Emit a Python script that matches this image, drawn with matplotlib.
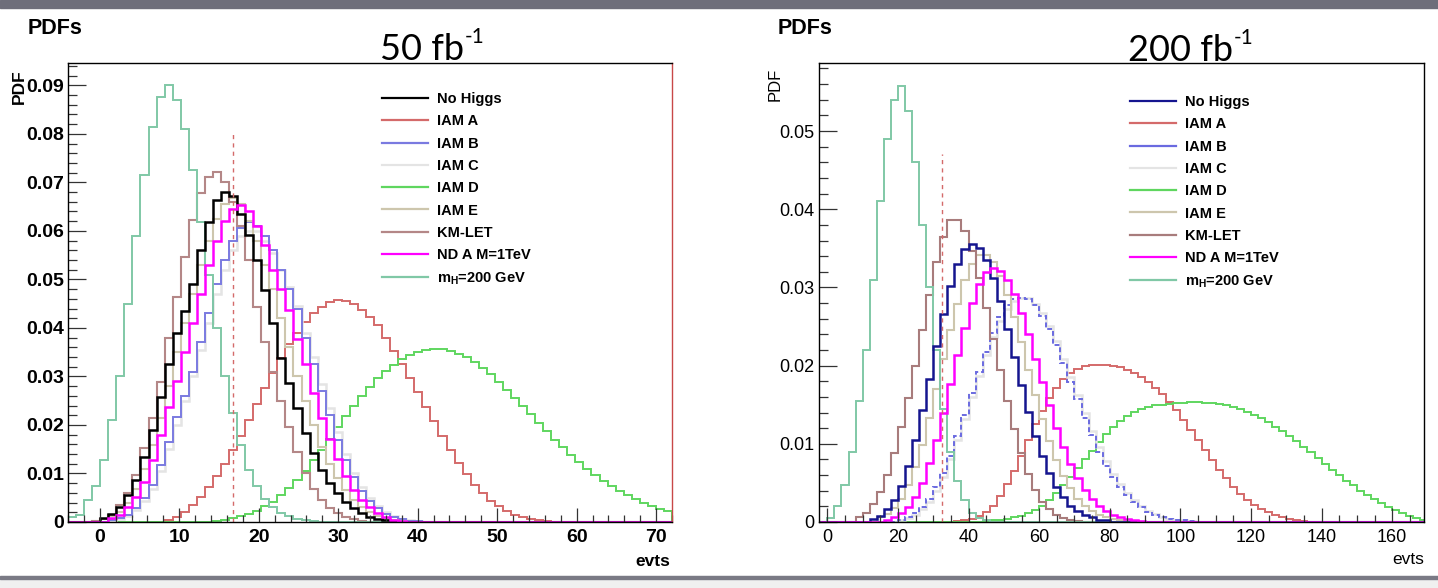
import numpy as np
import matplotlib
matplotlib.use('Agg')
import matplotlib.pyplot as plt
from matplotlib.lines import Line2D
from matplotlib.patches import Rectangle
from matplotlib.ticker import MultipleLocator, FuncFormatter

plt.rcParams['font.family'] = ['Liberation Sans', 'DejaVu Sans']
plt.rcParams['mathtext.default'] = 'regular'

labels = ['No Higgs', 'IAM A', 'IAM B', 'IAM C', 'IAM D', 'IAM E', 'KM-LET',
          'ND A M=1TeV', 'm$_H$=200 GeV']

# ---------------- 50 fb-1 : 75 bins between -4 and 72 evts ----------------
nbins_50 = 75
range_50 = (-4, 72)
cut_50 = 16.8          # dashed line position (evts)
cut_top_50 = 0.080

no_higgs_50 = [0.0008, 0.0017, 0.003, 0.0055, 0.0087, 0.0134, 0.019, 0.0258, 0.0325, 0.039,
               0.0435, 0.049, 0.056, 0.0619, 0.0664, 0.0681, 0.0672, 0.0635, 0.0592, 0.054,
               0.0478, 0.041, 0.0338, 0.0286, 0.0235, 0.0183, 0.0142, 0.0107, 0.008, 0.006,
               0.0042, 0.0029, 0.0018, 0.0011, 0.0007, 0.0004, 0.0002, 0.0001]
iam_a_50 = [0.0005, 0.0011, 0.0021, 0.0035, 0.0052, 0.0072, 0.0095, 0.012, 0.0148, 0.0178,
            0.021, 0.0243, 0.0276, 0.0308, 0.0338, 0.0366, 0.039, 0.0412, 0.043, 0.0444,
            0.0453, 0.0458, 0.0456, 0.0449, 0.0437, 0.0422, 0.0405, 0.038, 0.0353, 0.0325,
            0.0297, 0.0268, 0.0238, 0.0208, 0.0178, 0.0148, 0.0122, 0.0098, 0.0077, 0.0059,
            0.0044, 0.0032, 0.0022, 0.0015, 0.001, 0.0006, 0.0004, 0.0002, 0.0001]
iam_b_50 = [0.0004, 0.0008, 0.0015, 0.0028, 0.005, 0.0076, 0.0118, 0.0165, 0.0217, 0.026,
            0.031, 0.037, 0.043, 0.049, 0.054, 0.058, 0.0605, 0.0619, 0.061, 0.059,
            0.056, 0.052, 0.048, 0.044, 0.038, 0.0325, 0.027, 0.022, 0.017, 0.0128,
            0.0092, 0.0064, 0.0043, 0.0028, 0.0017, 0.001, 0.0006, 0.0003, 0.0002, 0.0001]
iam_c_50 = [0.0003, 0.0007, 0.0013, 0.0024, 0.0043, 0.0068, 0.0105, 0.015, 0.020, 0.025,
            0.030, 0.0355, 0.041, 0.047, 0.052, 0.056, 0.059, 0.0599, 0.0599, 0.058,
            0.0555, 0.052, 0.0485, 0.0445, 0.039, 0.034, 0.0285, 0.0235, 0.0185, 0.014,
            0.0102, 0.0072, 0.0049, 0.0032, 0.002, 0.0012, 0.0007, 0.0004, 0.0002, 0.0001]
iam_d_50 = [0.0003, 0.0005, 0.0008, 0.0012, 0.0017, 0.0023, 0.0032, 0.0042, 0.0055, 0.007,
            0.0087, 0.0106, 0.0127, 0.0149, 0.0172, 0.0195, 0.0218, 0.024, 0.026, 0.0279,
            0.0296, 0.0311, 0.0324, 0.0335, 0.0344, 0.035, 0.0355, 0.0357, 0.0356, 0.0353,
            0.0347, 0.034, 0.033, 0.0318, 0.0304, 0.0289, 0.0273, 0.0256, 0.0239, 0.0222,
            0.0204, 0.0187, 0.017, 0.0154, 0.0139, 0.0124, 0.011, 0.0097, 0.0085, 0.0074,
            0.0064, 0.0055, 0.0047, 0.004, 0.0033, 0.0027, 0.0022]
iam_e_50 = [0.0006, 0.0012, 0.002, 0.004, 0.0068, 0.011, 0.0158, 0.0215, 0.028, 0.035,
            0.041, 0.047, 0.053, 0.058, 0.0625, 0.0655, 0.0668, 0.0655, 0.062, 0.058,
            0.053, 0.048, 0.042, 0.036, 0.030, 0.025, 0.020, 0.0155, 0.012, 0.009,
            0.0065, 0.0045, 0.003, 0.002, 0.0012, 0.0007, 0.0004, 0.0002]
km_let_50 = [0.0003, 0.0007, 0.0015, 0.0035, 0.006, 0.0097, 0.0152, 0.0214, 0.0289, 0.038,
             0.0464, 0.0547, 0.0623, 0.0678, 0.0712, 0.0722, 0.070, 0.066, 0.061, 0.054,
             0.0444, 0.037, 0.031, 0.025, 0.0195, 0.0145, 0.0101, 0.0068, 0.0045, 0.0029,
             0.0018, 0.0011, 0.0006, 0.0003, 0.0001]
nd_a_50 = [0.0008, 0.0015, 0.003, 0.0052, 0.0082, 0.0128, 0.018, 0.0238, 0.029, 0.035,
           0.041, 0.047, 0.053, 0.058, 0.062, 0.0645, 0.0654, 0.064, 0.061, 0.057,
           0.052, 0.048, 0.0436, 0.0377, 0.0325, 0.0265, 0.0215, 0.0171, 0.013, 0.0095,
           0.0066, 0.0045, 0.003, 0.0018, 0.001, 0.0005, 0.0003, 0.0001]
mh200_50 = [0.001, 0.0015, 0.0045, 0.0075, 0.0128, 0.021, 0.030, 0.045, 0.059, 0.0715,
            0.0815, 0.0876, 0.0900, 0.0870, 0.0810, 0.0726, 0.0619, 0.051, 0.040, 0.030,
            0.0225, 0.0159, 0.0107, 0.0075, 0.0048, 0.003, 0.0019, 0.0012, 0.0007, 0.0004,
            0.0002, 0.0001]
# index of the first listed bin of each series (same order as labels)
first_bin_50 = [4, 12, 5, 5, 18, 4, 3, 5, 0]

# ---------------- 200 fb-1 : 2-evt bins between -2 and 170 evts ----------------
nbins_200 = 86
range_200 = (-2, 170)
cut_200 = 32.4
cut_top_200 = 0.047

no_higgs_200 = [0.0004, 0.0008, 0.0016, 0.0028, 0.0046, 0.0072, 0.0105, 0.0143, 0.0183, 0.0225,
                0.0266, 0.0302, 0.033, 0.0349, 0.0355, 0.035, 0.0335, 0.0312, 0.0282, 0.0247,
                0.0211, 0.0175, 0.0141, 0.011, 0.0085, 0.0063, 0.0045, 0.0032, 0.0021, 0.0014,
                0.0009, 0.0006, 0.0003, 0.0002]
iam_a_200 = [0.0001, 0.0002, 0.0004, 0.0008, 0.0013, 0.0021, 0.0033, 0.0048, 0.0065, 0.0085,
             0.0105, 0.0125, 0.0142, 0.0158, 0.0172, 0.0183, 0.0191, 0.0196, 0.0199, 0.0201,
             0.0201, 0.0201, 0.0200, 0.0198, 0.0194, 0.019, 0.0185, 0.0179, 0.0172, 0.0164,
             0.0154, 0.0143, 0.0131, 0.0118, 0.0105, 0.0092, 0.0079, 0.0067, 0.0056, 0.0045,
             0.0036, 0.0028, 0.0022, 0.0017, 0.0013, 0.0009, 0.0006, 0.0004, 0.0002, 0.0001]
iam_b_200 = [0.0003, 0.0006, 0.0011, 0.0019, 0.003, 0.0045, 0.0063, 0.0085, 0.011, 0.0137,
             0.0165, 0.0192, 0.0218, 0.0242, 0.0262, 0.0277, 0.0285, 0.0287, 0.0285, 0.0277,
             0.0264, 0.0247, 0.0226, 0.0203, 0.0179, 0.0157, 0.0133, 0.0111, 0.009, 0.0072,
             0.0058, 0.0045, 0.0034, 0.0025, 0.0019, 0.0013, 0.0009, 0.0006, 0.0004, 0.0003,
             0.0002, 0.0001]
iam_c_200 = [0.0002, 0.0005, 0.0009, 0.0016, 0.0026, 0.004, 0.0058, 0.008, 0.0105, 0.0132,
             0.016, 0.0187, 0.0213, 0.0237, 0.0257, 0.0273, 0.0282, 0.0286, 0.0286, 0.0279,
             0.0267, 0.0251, 0.0231, 0.0209, 0.0185, 0.0162, 0.0139, 0.0117, 0.0096, 0.0078,
             0.0062, 0.0048, 0.0037, 0.0028, 0.002, 0.0014, 0.001, 0.0007, 0.0004, 0.0003,
             0.0002, 0.0001]
iam_d_200 = [0.0001, 0.0002, 0.0003, 0.0004, 0.0006, 0.0008, 0.0011, 0.0015, 0.0021, 0.0028,
             0.0037, 0.0047, 0.0058, 0.0069, 0.008, 0.0091, 0.0102, 0.0112, 0.0121, 0.0129,
             0.0136, 0.0141, 0.0145, 0.0147, 0.0149, 0.015, 0.0151, 0.0152, 0.0152, 0.0153,
             0.0153, 0.0152, 0.0152, 0.0151, 0.0149, 0.0147, 0.0144, 0.0141, 0.0137, 0.0133,
             0.0128, 0.0122, 0.0116, 0.011, 0.0103, 0.0096, 0.0089, 0.0082, 0.0074, 0.0067,
             0.006, 0.0053, 0.0047, 0.004, 0.0034, 0.0029, 0.0024, 0.0019, 0.0015, 0.0011,
             0.0008, 0.0005, 0.0003]
iam_e_200 = [0.0006, 0.001, 0.0018, 0.003, 0.0047, 0.007, 0.0099, 0.0133, 0.017, 0.0208,
             0.0245, 0.0279, 0.0309, 0.033, 0.0341, 0.0341, 0.0332, 0.0315, 0.029, 0.0262,
             0.023, 0.0195, 0.0162, 0.0132, 0.0104, 0.0079, 0.0059, 0.0043, 0.003, 0.0021,
             0.0014, 0.0009, 0.0006, 0.0004, 0.0002, 0.0001]
km_let_200 = [0.0006, 0.0012, 0.0023, 0.0039, 0.006, 0.0088, 0.0121, 0.0158, 0.0199, 0.0245,
              0.029, 0.0333, 0.0365, 0.0386, 0.0386, 0.0372, 0.0346, 0.0312, 0.0274, 0.0234,
              0.0194, 0.0155, 0.0119, 0.0088, 0.0061, 0.0041, 0.0026, 0.0016, 0.0009, 0.0005,
              0.0002, 0.0001]
nd_a_200 = [0.0003, 0.0006, 0.0011, 0.0019, 0.0032, 0.005, 0.0075, 0.0105, 0.014, 0.0177,
            0.0213, 0.0248, 0.028, 0.0305, 0.032, 0.0325, 0.0321, 0.031, 0.0291, 0.0267,
            0.024, 0.0209, 0.0179, 0.0149, 0.012, 0.0096, 0.0074, 0.0056, 0.0041, 0.003,
            0.0021, 0.0014, 0.0009, 0.0006, 0.0004, 0.0002, 0.0001]
mh200_200 = [0.0005, 0.002, 0.0047, 0.009, 0.0155, 0.022, 0.031, 0.041, 0.049, 0.054,
             0.0558, 0.0525, 0.046, 0.038, 0.030, 0.022, 0.0145, 0.009, 0.0052, 0.0028,
             0.0012, 0.0005, 0.0002]
first_bin_200 = [7, 19, 11, 11, 23, 8, 5, 9, 1]

series_50 = [no_higgs_50, iam_a_50, iam_b_50, iam_c_50, iam_d_50, iam_e_50, km_let_50, nd_a_50, mh200_50]
series_200 = [no_higgs_200, iam_a_200, iam_b_200, iam_c_200, iam_d_200, iam_e_200, km_let_200, nd_a_200, mh200_200]

colors_50 = ['#000000', '#d46a6a', '#7a7ae0', '#e4e4e4', '#5fd65f', '#cdc6ad', '#b48787', '#ff00ff', '#80c8a6']
colors_200 = ['#15158f', '#d46a6a', '#6a6ae0', '#e4e4e4', '#5fd65f', '#cdc6ad', '#a87c7c', '#ff00ff', '#80c8a6']
widths = [1.8, 1.4, 1.4, 1.8, 1.4, 1.5, 1.5, 1.8, 1.4]
draw_order = [1, 4, 3, 2, 5, 6, 8, 0, 7]

W, H = 1438, 588
fig = plt.figure(figsize=(W / 100, H / 100), dpi=100)


def fx(x):
    return x / W


def fy(y):
    return 1 - y / H


fig.patches.append(Rectangle((0, fy(8)), 1, 8 / H, transform=fig.transFigure, color='#6e6e7a', zorder=-5))
fig.patches.append(Rectangle((0, fy(588)), 1, 12 / H, transform=fig.transFigure, color='#f0f0f0', zorder=-5))
fig.patches.append(Rectangle((0, fy(579)), 1, 3 / H, transform=fig.transFigure, color='#7a7a85', zorder=-5))

ax1 = fig.add_axes([fx(68), fy(522), 604 / W, 459 / H])
ax2 = fig.add_axes([fx(818.5), fy(522), 605.5 / W, 459 / H])


def draw_panel(ax, series, first_bins, nbins, xr, colors, dashed_b):
    edges = np.linspace(xr[0], xr[1], nbins + 1)
    for i in draw_order:
        full = np.zeros(nbins)
        vals = np.asarray(series[i])
        full[first_bins[i]:first_bins[i] + len(vals)] = vals
        kw = {}
        if i == 2 and dashed_b:
            kw['linestyle'] = (0, (2.5, 1.5))
        ax.stairs(full, edges, color=colors[i], lw=widths[i], **kw)


draw_panel(ax1, series_50, first_bin_50, nbins_50, range_50, colors_50, False)
draw_panel(ax2, series_200, first_bin_200, nbins_200, range_200, colors_200, True)

ax1.plot([cut_50, cut_50], [0, cut_top_50], color='#d46a6a', lw=1.0, ls=(0, (3, 3)))
ax2.plot([cut_200, cut_200], [0, cut_top_200], color='#d46a6a', lw=1.0, ls=(0, (3, 3)))

ax1.set_xlim(-4, 72)
ax1.set_ylim(0, 0.0946)
ax2.set_xlim(-2.5, 169)
ax2.set_ylim(0, 0.0587)

yfmt = FuncFormatter(lambda v, p: '0' if abs(v) < 1e-9 else '%.2f' % v)
for ax, xmaj, xmin, bold, tsize in [(ax1, 10, 2, True, 14), (ax2, 20, 5, False, 13)]:
    ax.xaxis.set_major_locator(MultipleLocator(xmaj))
    ax.xaxis.set_minor_locator(MultipleLocator(xmin))
    ax.yaxis.set_major_locator(MultipleLocator(0.01))
    ax.yaxis.set_minor_locator(MultipleLocator(0.002))
    ax.yaxis.set_major_formatter(yfmt)
    ax.tick_params(axis='both', which='both', direction='in', top=False, right=False, width=0.9, color='#333333')
    ax.tick_params(axis='y', which='major', length=13, pad=3)
    ax.tick_params(axis='y', which='minor', length=6.5)
    ax.tick_params(axis='x', which='major', length=10, pad=5)
    ax.tick_params(axis='x', which='minor', length=5)
    for lab in ax.get_xticklabels() + ax.get_yticklabels():
        lab.set_fontsize(tsize)
        lab.set_fontweight('bold' if bold else 'normal')
    for s in ax.spines.values():
        s.set_linewidth(1.0)
ax1.spines['right'].set_color('#c84848')

handles_50 = [Line2D([], [], color=c, lw=1.6) for c in colors_50]
handles_200 = [Line2D([], [], color=c, lw=1.6) for c in colors_200]
leg_kw = dict(frameon=False, loc='upper left', borderpad=0, borderaxespad=0,
              handlelength=3.15, handletextpad=0.65, labelspacing=0.57,
              prop={'weight': 'bold', 'size': 10.5})
ax1.legend(handles_50, labels, bbox_to_anchor=((381.7 - 68) / 604, (522 - 92) / 459), **leg_kw)
ax2.legend(handles_200, labels, bbox_to_anchor=((1130 - 818.5) / 605.5, (522 - 95) / 459), **leg_kw)

# titles and axis texts
fig.text(fx(28), fy(28), 'PDFs', fontsize=15.5, fontweight='bold', va='center', ha='left')
fig.text(fx(778), fy(28), 'PDFs', fontsize=15.5, fontweight='bold', va='center', ha='left')
fig.text(fx(19), fy(87), 'PDF', fontsize=12.5, fontweight='bold', rotation=90, va='center', ha='center')
fig.text(fx(775), fy(84), 'PDF', fontsize=12, rotation=90, va='center', ha='center')
fig.text(fx(670), fy(562), 'evts', fontsize=12.5, fontweight='bold', va='center', ha='right')
fig.text(fx(1424), fy(560), 'evts', fontsize=12.5, va='center', ha='right')

renderer = fig.canvas.get_renderer()
for txt, x0, base in [('50 fb', 380, 60), ('200 fb', 1128, 61)]:
    t = fig.text(fx(x0), fy(base), txt, fontfamily='Lato', fontsize=26, va='baseline', ha='left')
    bb = t.get_window_extent(renderer)
    fig.text((bb.x1 + 1) / W, fy(base - 17), '-1', fontfamily='Lato', fontsize=15, va='baseline', ha='left')

fig.savefig('out.png', dpi=100)
